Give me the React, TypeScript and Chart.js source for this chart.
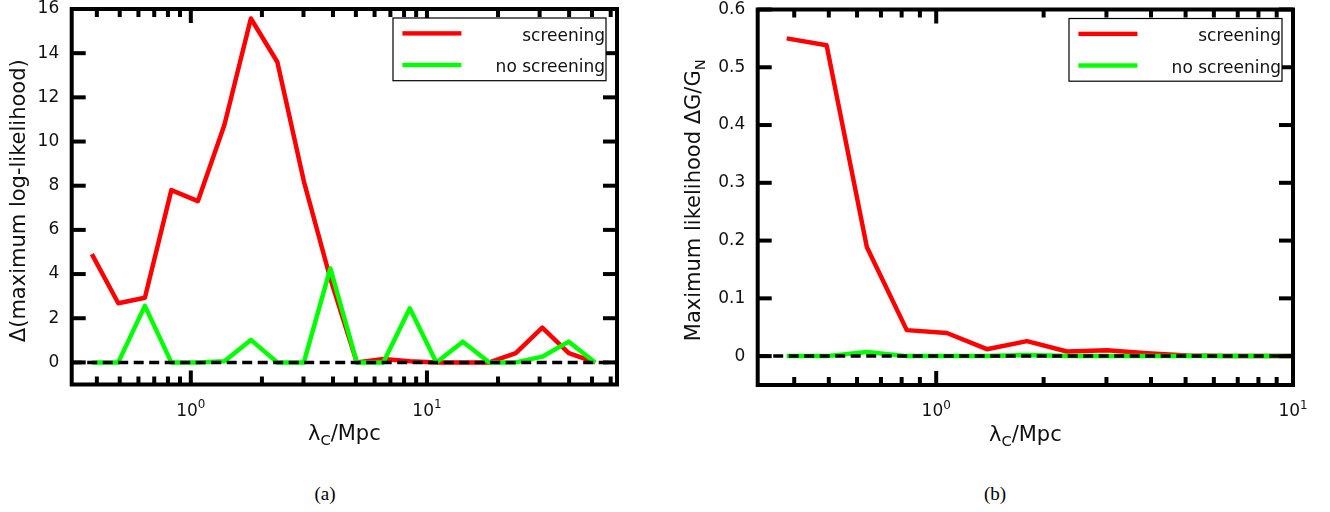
import React, { useEffect, useRef } from "react";
import { Chart, registerables } from "chart.js";

Chart.register(...registerables);

// ---------- data ----------
const lambdaC = [0.381, 0.493, 0.639, 0.827, 1.071, 1.387, 1.796, 2.325, 3.011, 3.898, 5.047, 6.535, 8.461, 10.96, 14.18, 18.37, 23.78, 30.79, 39.86, 51.62];

const likeScreening = [4.9, 2.68, 2.93, 7.8, 7.3, 10.75, 15.57, 13.6, 8.2, 3.8, 0, 0.15, 0.05, 0, 0, 0, 0.42, 1.57, 0.42, 0];
const likeNoScreening = [0, 0, 2.56, 0, 0, 0.05, 1.02, 0, 0, 4.26, 0, 0, 2.45, 0, 0.94, 0, 0, 0.26, 0.94, 0];

const dgScreening = [0.55, 0.538, 0.189, 0.045, 0.04, 0.012, 0.026, 0.008, 0.01, 0.005, 0.001, 0, 0, 0];
const dgNoScreening = [0, 0, 0.007, 0, 0, 0, 0.002, 0, 0, 0, 0, 0, 0, 0];

const likeYTicks = [0, 2, 4, 6, 8, 10, 12, 14, 16];
const likeYTickLabels = ["0", "2", "4", "6", "8", "10", "12", "14", "16"];
const dgYTicks = [0, 0.1, 0.2, 0.3, 0.4, 0.5, 0.6];
const dgYTickLabels = ["0", "0.1", "0.2", "0.3", "0.4", "0.5", "0.6"];

const likeXMajor = [1, 10];
const likeXMajorExp = ["0", "1"];
const likeXMinor = [0.4, 0.5, 0.6, 0.7, 0.8, 0.9, 2, 3, 4, 5, 6, 7, 8, 9, 20, 30, 40, 50, 60];
const dgXMajor = [1, 10];
const dgXMajorExp = ["0", "1"];
const dgXMinor = [0.4, 0.5, 0.6, 0.7, 0.8, 0.9, 2, 3, 4, 5, 6, 7, 8, 9];

const likeXRange = [0.313, 63.8];
const likeYRange = [-1, 16];
const dgXRange = [0.316, 10];
const dgYRange = [-0.05, 0.6];

const legendLabels = ["screening", "no screening"];
const legendColors = ["#ff0000", "#00ff00"];

// ---------- drawing helpers ----------
const FONT = '"DejaVu Sans", sans-serif';
type Seg = { t: string; sub?: boolean; sup?: boolean };

function drawRich(ctx: CanvasRenderingContext2D, segs: Seg[], x: number, y: number, size: number, align: "left" | "center" | "right") {
  const sizes = segs.map((s) => (s.sub || s.sup ? size * 0.7 : size));
  const widths = segs.map((s, i) => {
    ctx.font = `${sizes[i]}px ${FONT}`;
    return ctx.measureText(s.t).width;
  });
  const total = widths.reduce((a, b) => a + b, 0);
  let cx = align === "center" ? x - total / 2 : align === "right" ? x - total : x;
  ctx.textAlign = "left";
  ctx.textBaseline = "alphabetic";
  segs.forEach((s, i) => {
    ctx.font = `${sizes[i]}px ${FONT}`;
    const dy = s.sub ? size * 0.24 : s.sup ? -size * 0.42 : 0;
    ctx.fillText(s.t, cx, y + dy);
    cx += widths[i];
  });
}

type Spec = {
  yTicks: number[];
  yTickLabels: string[];
  xMajor: number[];
  xMajorExp: string[];
  xMinor: number[];
  xTitle: Seg[];
  yTitle: Seg[];
  yTitleX: number;
  yTitleShift: number;
};

const TICK_W = 4;
const MAJOR_LEN = 14;
const MINOR_LEN = 8;

function framePlugin(spec: Spec) {
  return {
    id: "frame",
    afterDraw(chart: any) {
      const ctx: CanvasRenderingContext2D = chart.ctx;
      const ca = chart.chartArea;
      const xs = chart.scales.x;
      const ys = chart.scales.y;
      ctx.save();
      ctx.setLineDash([]);
      ctx.strokeStyle = "#000";
      ctx.lineWidth = 4;
      ctx.strokeRect(ca.left, ca.top, ca.right - ca.left, ca.bottom - ca.top);

      ctx.fillStyle = "#000";
      const vTick = (v: number, len: number) => {
        const px = xs.getPixelForValue(v);
        ctx.fillRect(px - TICK_W / 2, ca.top, TICK_W, len);
        ctx.fillRect(px - TICK_W / 2, ca.bottom - len, TICK_W, len);
      };
      spec.xMajor.forEach((v) => vTick(v, MAJOR_LEN));
      spec.xMinor.forEach((v) => vTick(v, MINOR_LEN));
      spec.yTicks.forEach((v) => {
        const py = ys.getPixelForValue(v);
        ctx.fillRect(ca.left, py - TICK_W / 2, MAJOR_LEN, TICK_W);
        ctx.fillRect(ca.right - MAJOR_LEN, py - TICK_W / 2, MAJOR_LEN, TICK_W);
      });

      // tick labels
      ctx.fillStyle = "#111";
      ctx.font = `17px ${FONT}`;
      ctx.textAlign = "right";
      ctx.textBaseline = "middle";
      spec.yTicks.forEach((v, i) => {
        ctx.fillText(spec.yTickLabels[i], ca.left - 12.5, ys.getPixelForValue(v));
      });
      spec.xMajor.forEach((v, i) => {
        drawRich(ctx, [{ t: "10" }, { t: spec.xMajorExp[i], sup: true }], xs.getPixelForValue(v), ca.bottom + 31, 17, "center");
      });

      // axis titles
      drawRich(ctx, spec.xTitle, (ca.left + ca.right) / 2, ca.bottom + 55.5, 21, "center");
      ctx.save();
      ctx.translate(spec.yTitleX, (ca.top + ca.bottom) / 2 + spec.yTitleShift);
      ctx.rotate(-Math.PI / 2);
      drawRich(ctx, spec.yTitle, 0, 0, 21, "center");
      ctx.restore();

      // legend
      const bw = 213;
      const bh = 62.7;
      const bx = ca.right - 11 - bw;
      const by = ca.top + 9;
      ctx.fillStyle = "#fff";
      ctx.fillRect(bx, by, bw, bh);
      ctx.lineWidth = 1.2;
      ctx.strokeStyle = "#000";
      ctx.strokeRect(bx, by, bw, bh);
      legendLabels.forEach((lab, i) => {
        const ly = by + 15.4 + i * 31.6;
        ctx.fillStyle = legendColors[i];
        ctx.fillRect(bx + 9.4, ly - 2.2, 59, 4.4);
        ctx.fillStyle = "#111";
        ctx.font = `17px ${FONT}`;
        ctx.textAlign = "right";
        ctx.textBaseline = "alphabetic";
        ctx.fillText(lab, bx + bw - 1, ly + 7.4);
      });
      ctx.restore();
    },
  };
}

function makeConfig(
  xVals: number[],
  screening: number[],
  noScreening: number[],
  xRange: number[],
  yRange: number[],
  padding: any,
  spec: Spec
): any {
  return {
    type: "line",
    data: {
      datasets: [
        {
          label: "zero",
          data: xRange.map((x) => ({ x, y: 0 })),
          borderColor: "#000",
          borderWidth: 3.5,
          borderDash: [10, 5.5],
          pointRadius: 0,
          order: 0,
        },
        {
          label: legendLabels[1],
          data: noScreening.map((y, i) => ({ x: xVals[i], y })),
          borderColor: legendColors[1],
          borderWidth: 4.5,
          borderJoinStyle: "round",
          pointRadius: 0,
          order: 1,
        },
        {
          label: legendLabels[0],
          data: screening.map((y, i) => ({ x: xVals[i], y })),
          borderColor: legendColors[0],
          borderWidth: 4.5,
          borderJoinStyle: "round",
          pointRadius: 0,
          order: 2,
        },
      ],
    },
    options: {
      animation: false,
      responsive: false,
      devicePixelRatio: 1,
      layout: { padding },
      elements: { line: { tension: 0 } },
      plugins: { legend: { display: false }, tooltip: { enabled: false } },
      events: [],
      scales: {
        x: { type: "logarithmic", bounds: "data", min: xRange[0], max: xRange[1], display: false },
        y: { type: "linear", bounds: "data", min: yRange[0], max: yRange[1], display: false },
      },
    },
    plugins: [framePlugin(spec)],
  };
}

function ChartCanvas(props: { config: any; left: number; width: number; height: number }) {
  const ref = useRef<HTMLCanvasElement>(null);
  useEffect(() => {
    if (!ref.current) return;
    const chart = new Chart(ref.current, props.config);
    return () => chart.destroy();
  }, []);
  return (
    <canvas
      ref={ref}
      width={props.width}
      height={props.height}
      style={{ position: "absolute", left: props.left, top: 0, width: props.width, height: props.height }}
    />
  );
}

export default function App() {
  const leftConfig = makeConfig(
    lambdaC,
    likeScreening,
    likeNoScreening,
    likeXRange,
    likeYRange,
    { left: 71.7, top: 9, right: 43, bottom: 75.5 },
    {
      yTicks: likeYTicks,
      yTickLabels: likeYTickLabels,
      xMajor: likeXMajor,
      xMajorExp: likeXMajorExp,
      xMinor: likeXMinor,
      xTitle: [{ t: "λ" }, { t: "C", sub: true }, { t: "/Mpc" }],
      yTitle: [{ t: "Δ(maximum log-likelihood)" }],
      yTitleX: 25,
      yTitleShift: 4,
    }
  );
  const rightConfig = makeConfig(
    lambdaC.slice(0, dgScreening.length),
    dgScreening,
    dgNoScreening,
    dgXRange,
    dgYRange,
    { left: 97.7, top: 9.5, right: 37, bottom: 75 },
    {
      yTicks: dgYTicks,
      yTickLabels: dgYTickLabels,
      xMajor: dgXMajor,
      xMajorExp: dgXMajorExp,
      xMinor: dgXMinor,
      xTitle: [{ t: "λ" }, { t: "C", sub: true }, { t: "/Mpc" }],
      yTitle: [{ t: "Maximum likelihood ΔG/G" }, { t: "N", sub: true }],
      yTitleX: 39.5,
      yTitleShift: 3,
    }
  );
  const caption: React.CSSProperties = {
    position: "absolute",
    top: 493,
    transform: "translate(-50%, -50%)",
    fontFamily: '"Liberation Serif", serif',
    fontSize: 19,
    lineHeight: 1,
    color: "#000",
  };
  return (
    <div style={{ position: "absolute", left: 0, top: 0, width: 1330, height: 512, background: "#fff", overflow: "hidden" }}>
      <ChartCanvas config={leftConfig} left={0} width={660} height={460} />
      <ChartCanvas config={rightConfig} left={660} width={670} height={460} />
      <div style={{ ...caption, left: 325 }}>(a)</div>
      <div style={{ ...caption, left: 995 }}>(b)</div>
    </div>
  );
}
